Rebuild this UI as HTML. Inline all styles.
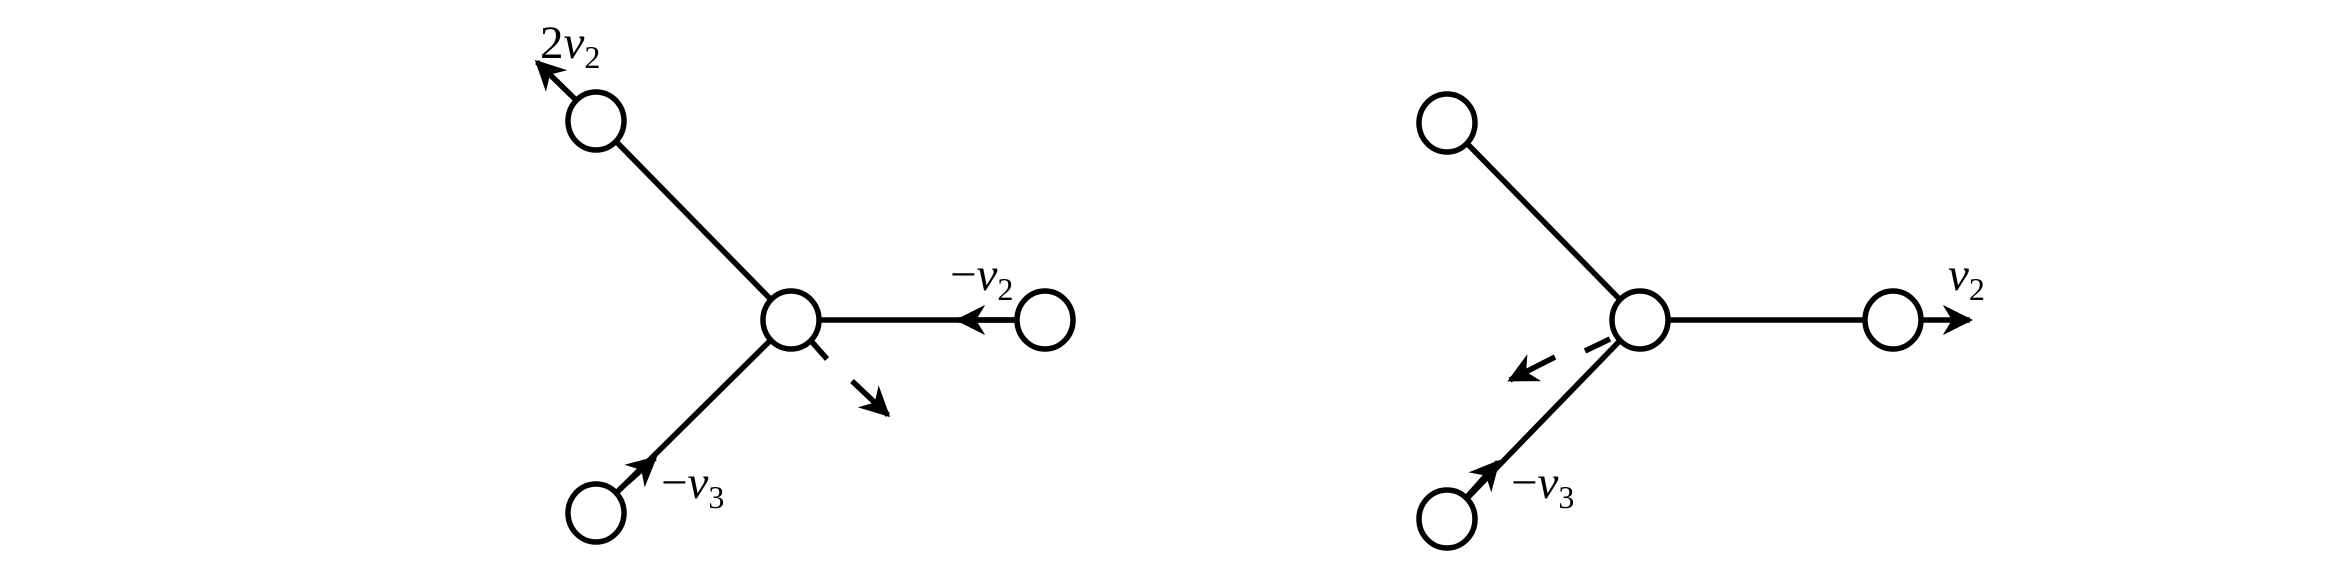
<!DOCTYPE html>
<html><head><meta charset="utf-8"><style>
html,body{margin:0;padding:0;background:#fff;}
svg{display:block;}
text{font-family:"Liberation Serif","DejaVu Serif",serif;fill:#000;}
</style></head><body>
<svg width="2344" height="564" viewBox="0 0 2344 564">
<defs>
<marker id="ah" viewBox="0 0 10 10" refX="9" refY="5" markerWidth="5.5" markerHeight="5.5" markerUnits="strokeWidth" orient="auto">
<path d="M0,0 L10,5 L0,10 L3,5 Z" fill="#000"/>
</marker>
</defs>
<g stroke="#000" stroke-width="5.5" fill="none">
<line x1="791" y1="320" x2="596" y2="121"/>
<line x1="791" y1="320" x2="1045" y2="320"/>
<line x1="791" y1="320" x2="596" y2="513"/>
<line x1="577" y1="101" x2="537" y2="62" marker-end="url(#ah)"/>
<line x1="1017" y1="320" x2="958" y2="320" marker-end="url(#ah)"/>
<line x1="620" y1="489" x2="655" y2="458" marker-end="url(#ah)"/>
<line x1="812" y1="342" x2="827" y2="359"/>
<line x1="852" y1="381" x2="888" y2="415" marker-end="url(#ah)"/>
<ellipse cx="791" cy="320" rx="28" ry="29" fill="#fff"/>
<ellipse cx="596" cy="121" rx="28" ry="29" fill="#fff"/>
<ellipse cx="1045" cy="320" rx="28" ry="29" fill="#fff"/>
<ellipse cx="596" cy="513" rx="28" ry="29" fill="#fff"/>
</g>
<text x="540" y="58" font-size="47">2<tspan font-style="italic">ν</tspan><tspan font-size="32" dy="10">2</tspan></text>
<text x="950" y="290" font-size="47">−<tspan font-style="italic">ν</tspan><tspan font-size="32" dy="10">2</tspan></text>
<text x="661" y="498" font-size="47">−<tspan font-style="italic">ν</tspan><tspan font-size="32" dy="10">3</tspan></text>

<g stroke="#000" stroke-width="5.5" fill="none">
<line x1="1640" y1="320" x2="1447" y2="123"/>
<line x1="1640" y1="320" x2="1893" y2="320"/>
<line x1="1640" y1="320" x2="1447" y2="519"/>
<line x1="1921" y1="320" x2="1970" y2="320" marker-end="url(#ah)"/>
<line x1="1467" y1="497" x2="1498" y2="462" marker-end="url(#ah)"/>
<line x1="1610" y1="339" x2="1585" y2="351"/>
<line x1="1555" y1="357" x2="1510" y2="380" marker-end="url(#ah)"/>
<ellipse cx="1640" cy="320" rx="28" ry="29" fill="#fff"/>
<ellipse cx="1447" cy="123" rx="28" ry="29" fill="#fff"/>
<ellipse cx="1893" cy="320" rx="28" ry="29" fill="#fff"/>
<ellipse cx="1447" cy="519" rx="28" ry="29" fill="#fff"/>
</g>
<text x="1948" y="290" font-size="47"><tspan font-style="italic">ν</tspan><tspan font-size="32" dy="10">2</tspan></text>
<text x="1511" y="498" font-size="47">−<tspan font-style="italic">ν</tspan><tspan font-size="32" dy="10">3</tspan></text>
</svg>
</body></html>
